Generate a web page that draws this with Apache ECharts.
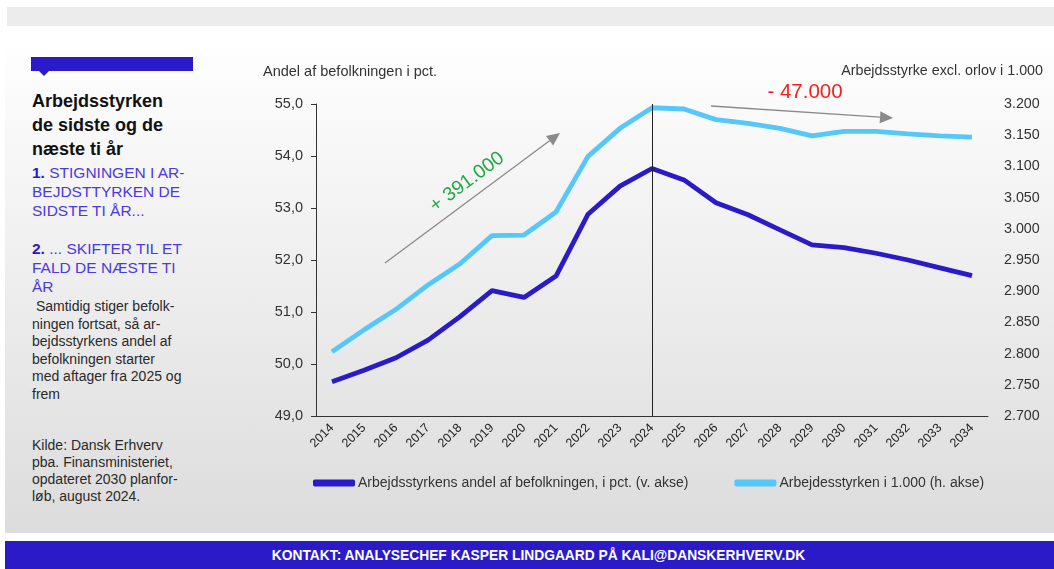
<!DOCTYPE html>
<html>
<head>
<meta charset="utf-8">
<script src="https://cdn.jsdelivr.net/npm/echarts@6/dist/echarts.min.js"></script>
<style>
body { margin: 0; width: 1054px; height: 569px; background: #fff; position: relative; overflow: hidden; font-family: 'Liberation Sans', Arial, sans-serif; }
.topband { position: absolute; left: 7px; top: 7px; width: 1047px; height: 19px; background: #ececec; }
.panel { position: absolute; left: 5px; top: 35px; width: 1049px; height: 498px; background: linear-gradient(#ffffff, #dcdcdc); }
.bluebar { position: absolute; left: 31px; top: 57px; width: 162px; height: 14px; background: #2a1ac8; }
.notch { position: absolute; left: 39px; top: 71px; width: 0; height: 0; border-left: 5px solid transparent; border-right: 5px solid transparent; border-top: 5px solid #2a1ac8; }
.title { position: absolute; left: 32px; top: 89px; width: 180px; font-size: 18px; font-weight: bold; line-height: 24px; color: #111; }
.point { position: absolute; left: 32px; width: 180px; font-size: 15.5px; line-height: 19px; color: #4a3adf; }
.point b { color: #2a1ac8; }
.body { position: absolute; left: 32px; width: 180px; font-size: 14px; line-height: 17.5px; color: #2a2a2a; }
.footer { position: absolute; left: 5px; top: 541px; width: 1049px; height: 28px; box-sizing: border-box; padding-left: 18px; background: #2a1ac8; color: #fff; font-weight: bold; font-size: 13.8px; line-height: 29px; text-align: center; }
#chart { position: absolute; left: 0; top: 0; width: 1054px; height: 569px; }
</style>
</head>
<body>
<div class="topband"></div>
<div class="panel"></div>
<div class="bluebar"></div>
<div class="notch"></div>
<div class="title">Arbejdsstyrken<br>de sidste og de<br>næste ti år</div>
<div class="point" style="top:163px"><b>1.</b> STIGNINGEN I AR-<br>BEJDSTTYRKEN DE<br>SIDSTE TI ÅR...</div>
<div class="point" style="top:239px"><b>2.</b> ... SKIFTER TIL ET<br>FALD DE NÆSTE TI<br>ÅR</div>
<div class="body" style="top:298px">&nbsp;Samtidig stiger befolk-<br>ningen fortsat, så ar-<br>bejdsstyrkens andel af<br>befolkningen starter<br>med aftager fra 2025 og<br>frem</div>
<div class="body" style="top:437px;line-height:17px">Kilde: Dansk Erhverv<br>pba. Finansministeriet,<br>opdateret 2030 planfor-<br>løb, august 2024.</div>
<div class="footer">KONTAKT: ANALYSECHEF KASPER LINDGAARD PÅ KALI@DANSKERHVERV.DK</div>
<div id="chart"></div>
<script>
var years = ['2014','2015','2016','2017','2018','2019','2020','2021','2022','2023','2024',
             '2025','2026','2027','2028','2029','2030','2031','2032','2033','2034'];
// andel af befolkningen i pct. (venstre akse)
var andel = [49.66, 49.88, 50.12, 50.46, 50.91, 51.41, 51.28, 51.69, 52.88, 53.42, 53.76,
             53.54, 53.10, 52.87, 52.58, 52.29, 52.24, 52.13, 52.00, 51.85, 51.70];
// arbejdsstyrken i 1.000 (hoejre akse)
var styrke = [2803, 2838, 2871, 2910, 2944, 2989, 2990, 3027, 3116, 3161, 3194,
              3192, 3175, 3169, 3161, 3149, 3156, 3156, 3152, 3149, 3147];
var seriesNames = ['Arbejdsstyrkens andel af befolkningen, i pct. (v. akse)', 'Arbejdesstyrken i 1.000 (h. akse)'];

var font = "'Liberation Sans', Arial, sans-serif";

function arrow(x1, y1, x2, y2) {
    var ang = Math.atan2(y2 - y1, x2 - x1);
    var len = 13, half = 6;
    var bx = x2 - len * Math.cos(ang), by = y2 - len * Math.sin(ang);
    var px = -Math.sin(ang) * half, py = Math.cos(ang) * half;
    return [
        { type: 'line', shape: { x1: x1, y1: y1, x2: bx, y2: by }, style: { stroke: '#8a8a8a', lineWidth: 1.3 } },
        { type: 'polygon', shape: { points: [[x2, y2], [bx + px, by + py], [bx - px, by - py]] }, style: { fill: '#8a8a8a' } }
    ];
}

var chart = echarts.init(document.getElementById('chart'));
var option = {
    animation: false,
    textStyle: { fontFamily: font },
    grid: { left: 316, right: 66, top: 104, bottom: 153 },
    legend: {
        top: 471, left: 308,
        itemWidth: 42, itemHeight: 7, itemGap: 46,
        icon: 'roundRect',
        textStyle: { color: '#333', fontSize: 14, padding: [0, 0, 0, -2] },
        data: seriesNames
    },
    xAxis: {
        type: 'category',
        data: years,
        axisLine: { lineStyle: { color: '#333', width: 1 } },
        axisTick: { length: 5, lineStyle: { color: '#333' } },
        axisLabel: { rotate: 45, color: '#222', fontSize: 12.5, margin: 10 }
    },
    yAxis: [{
        type: 'value', min: 49, max: 55, interval: 1,
        axisLine: { show: true, lineStyle: { color: '#333' } },
        axisTick: { show: true, length: 5, lineStyle: { color: '#333' } },
        splitLine: { show: false },
        axisLabel: { color: '#333', fontSize: 14.5, margin: 13, formatter: function (v) { return v.toFixed(1).replace('.', ','); } }
    }, {
        type: 'value', min: 2700, max: 3200, interval: 50,
        axisLine: { show: false }, axisTick: { show: false }, splitLine: { show: false },
        axisLabel: { color: '#333', fontSize: 14.3, margin: 16, formatter: function (v) { return String(v).replace(/(\d)(\d{3})$/, '$1.$2'); } }
    }],
    series: [{
        name: seriesNames[0], type: 'line', yAxisIndex: 0, data: andel,
        symbol: 'none', lineStyle: { color: '#2a1ac8', width: 4.8 }, itemStyle: { color: '#2a1ac8' },
        markLine: {
            silent: true, symbol: 'none', label: { show: false },
            lineStyle: { color: '#222', width: 1, type: 'solid' },
            data: [{ xAxis: '2024' }]
        }
    }, {
        name: seriesNames[1], type: 'line', yAxisIndex: 1, data: styrke,
        symbol: 'none', lineStyle: { color: '#55c8f8', width: 4.8 }, itemStyle: { color: '#55c8f8' }
    }],
    graphic: [
        { type: 'text', left: 263, top: 64, style: { text: 'Andel af befolkningen i pct.', fill: '#333', font: '14.5px ' + font } },
        { type: 'text', right: 11, top: 64, style: { text: 'Arbejdsstyrke excl. orlov i 1.000', fill: '#333', font: '14.3px ' + font } },
        { type: 'text', x: 467, y: 182, rotation: 0.64, style: { text: '+ 391.000', fill: '#22a845', font: '19.5px ' + font, align: 'center', verticalAlign: 'middle' } },
        { type: 'text', x: 805, y: 92, style: { text: '- 47.000', fill: '#f5201e', font: '20.5px ' + font, align: 'center', verticalAlign: 'middle' } }
    ].concat(arrow(385, 263, 560, 133)).concat(arrow(711, 106, 893, 118))
};
chart.setOption(option);
</script>
</body>
</html>
